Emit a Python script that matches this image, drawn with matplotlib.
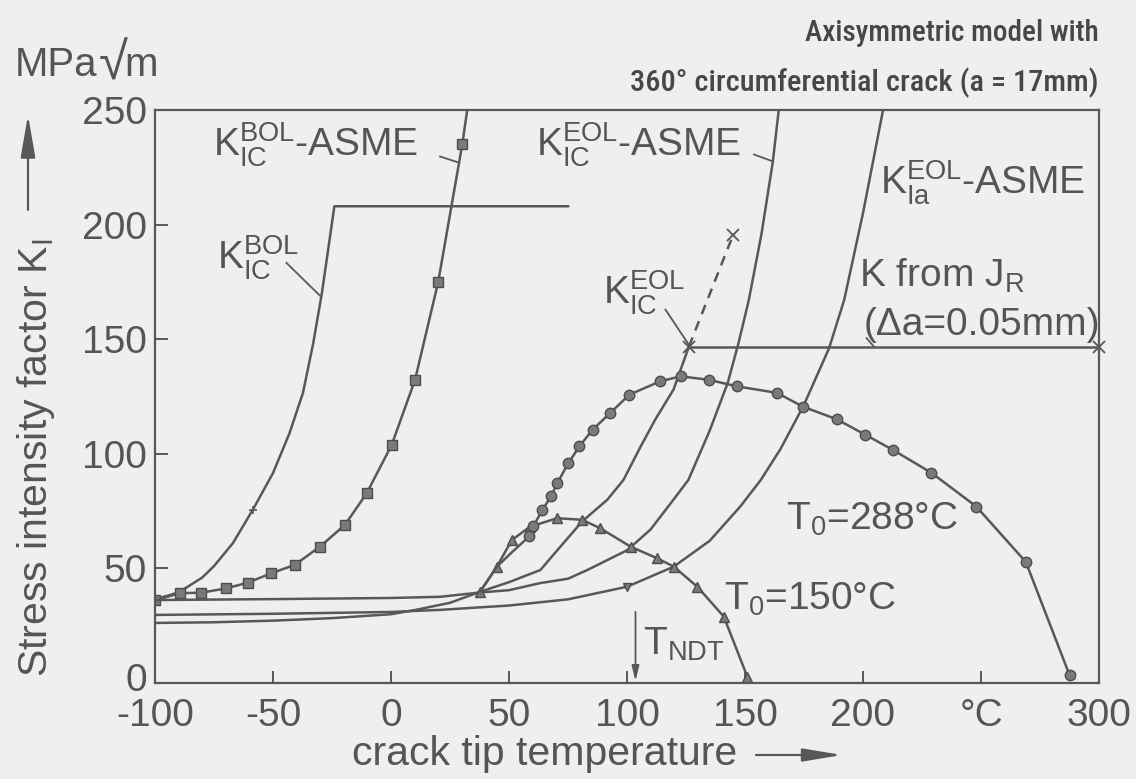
import os
import matplotlib
matplotlib.use("Agg")
import matplotlib.pyplot as plt
from matplotlib import font_manager as fm
from matplotlib.transforms import ScaledTranslation

# ---------------- data ----------------
bol_T = [-100, -90, -80, -75, -67, -58.6, -50, -43, -37.3, -33, -29.3, -26.5, -24, 75]
bol_K = [36.5, 39.5, 46, 51, 61, 75.5, 91.6, 109, 126.6, 148, 170, 190, 208, 208]

bol_asme_T = [-100, -89.6, -80.4, -69.8, -60.6, -50.7, -40.8, -30.1, -19.5, -10.3, 0.3, 10.2, 20, 30.2, 32.3]
bol_asme_K = [36, 39.2, 39.4, 41.3, 43.8, 47.9, 51.5, 59.5, 69, 82.8, 103.9, 132.3, 175, 235, 250]

eol_T = [-100, -75, -50, -25, 0, 11, 25, 37.8, 50, 63.3, 71.8, 81, 91.7, 98.5, 105.7, 112, 119.7, 126.2]
eol_K = [26.2, 26.5, 27.2, 28.3, 30, 32, 35, 39.8, 44, 49.3, 59.5, 70.5, 80, 88.6, 103, 115, 128, 146.7]

eol_dash_T = [126.2, 145]
eol_dash_K = [146.7, 195.6]

jr_T = [126.2, 300]
jr_K = [146.7, 146.7]

eol_asme_T = [-100, -50, 0, 20.8, 37.8, 50, 63.3, 75, 83.2, 100.2, 110, 119.7, 126, 135, 142.7, 147.3, 151.6, 157, 161.8, 164.3]
eol_asme_K = [36.2, 36.6, 37.1, 37.6, 39.5, 40.5, 43.6, 45.5, 49.3, 58, 67, 80, 88.6, 110, 131, 148.5, 167, 196, 227.5, 250]

kia_T = [-100, -50, 0, 20.8, 50, 75, 100, 119.7, 135, 148, 156.7, 165, 175, 185.6, 192, 200, 208.5]
kia_K = [29.7, 30.2, 31.0, 31.9, 33.8, 36.5, 42, 50.7, 62, 77, 88.6, 102, 121.4, 146, 167, 205, 250]

t150_T = [151, 141, 129.8, 119.8, 112.8, 101.5, 88.7, 81, 70.4, 59, 51.2, 44.9, 37.8]
t150_K = [2.7, 29, 42, 50.8, 54.4, 59.5, 67.5, 71.2, 71.9, 68.2, 62.4, 50.8, 39.9]

t288_T = [287.5, 269, 248, 229, 212.7, 201, 189, 174.5, 163.5, 146.7, 134.6, 122.7, 114, 101, 92.9,
          85.4, 79.8, 75.2, 70.5, 67.8, 64.1, 60.3, 58.6, 51.2, 44.9, 37.8]
t288_K = [3.5, 52.8, 77, 91.7, 101.7, 108.3, 115, 120.6, 126.6, 129.4, 132.3, 133.8, 131.6, 125.8, 117.8,
          110.5, 103.2, 96, 87.3, 81.4, 75.5, 68.3, 64, 57, 50.8, 39.9]

x_ticks = [-100, -50, 0, 50, 100, 150, 200, 250, 300]
x_tick_labels = ["-100", "-50", "0", "50", "100", "150", "200", "°C", "300"]
y_ticks = [0, 50, 100, 150, 200, 250]
y_tick_labels = ["0", "50", "100", "150", "200", "250"]

# ---------------- style ----------------
BG = "#efefef"
LC = "#585858"
TC = "#555555"
MF = "#7a7a7a"
ME = "#4c4c4c"

plt.rcParams["font.family"] = ["Liberation Sans", "DejaVu Sans"]
plt.rcParams["mathtext.fontset"] = "custom"
plt.rcParams["mathtext.rm"] = "Liberation Sans"
plt.rcParams["mathtext.it"] = "Liberation Sans:italic"
plt.rcParams["mathtext.bf"] = "Liberation Sans:bold"
plt.rcParams["mathtext.sf"] = "Liberation Sans"

W, H = 1136, 779
fig = plt.figure(figsize=(W / 100, H / 100), dpi=100, facecolor=BG)
ax = fig.add_axes([155 / W, 1 - 683 / H, (1099 - 155) / W, (683 - 110) / H])
ax.set_facecolor(BG)

def fx(px):
    return px / W

def fy(py):
    return 1 - py / H

lw = 1.8
# toughness curves
ax.plot(bol_T, bol_K, color=LC, lw=lw, marker="+", ms=6, mew=1.2, markevery=[5])
ax.plot(bol_asme_T, bol_asme_K, color=LC, lw=lw, marker="s", ms=6.5, mfc=MF, mec=ME,
        markevery=list(range(len(bol_asme_T) - 1)))
ax.plot(eol_T, eol_K, color=LC, lw=lw)
ax.plot(eol_dash_T, eol_dash_K, color=LC, lw=lw, ls=(0, (4, 3)))
ax.plot(eol_dash_T[-1:], eol_dash_K[-1:], color=LC, marker="x", ms=8, mew=1.3, ls="none")
ax.plot(jr_T, jr_K, color=LC, lw=lw, marker="x", ms=8, mew=1.3, clip_on=False)
ax.plot(eol_asme_T, eol_asme_K, color=LC, lw=lw)
ax.plot(kia_T, kia_K, color=LC, lw=lw, marker="v", ms=6, mfc=MF, mec=ME, markevery=[6])
# loading paths
ax.plot(t150_T, t150_K, color=LC, lw=lw, marker="^", ms=6.5, mfc=MF, mec=ME, clip_on=False)
ax.plot(t288_T, t288_K, color=LC, lw=lw, marker="o", ms=7.5, mfc=MF, mec=ME, clip_on=False,
        markevery=list(range(len(t288_T) - 3)))

# leader lines
lead = dict(color=LC, lw=1.3)
ax.plot([20.8, 28.9], [229.7, 227.0], **lead)
ax.plot([-44.3, -30.1], [183.3, 169.0], **lead)
ax.plot([153.8, 161.7], [230.6, 227.6], **lead)
ax.plot([116.3, 126.2], [162.9, 147.6], **lead)
ax.plot([201.5, 204.5], [150.5, 146.9], **lead)

# T_NDT arrow
ax.annotate("", xy=(103.6, 0.8), xytext=(103.6, 31),
            arrowprops=dict(arrowstyle="-|>,head_length=0.9,head_width=0.22", color=LC, lw=1.3,
                            shrinkA=0, shrinkB=0))

# axes formatting
ax.set_xlim(-100, 300)
ax.set_ylim(0, 250)
ax.set_xticks(x_ticks)
ax.set_xticklabels(x_tick_labels)
ax.set_yticks(y_ticks)
ax.set_yticklabels(y_tick_labels)
ax.tick_params(direction="in", length=9, width=1.4, color=LC, labelsize=28, labelcolor=TC)
ax.tick_params(axis="x", pad=10.5)
ax.tick_params(axis="y", pad=6)
for s in ax.spines.values():
    s.set_color(LC)
    s.set_linewidth(1.6)
# the "0" of the y axis sits just above "-100" of the x axis: nudge it up slightly
lab0 = ax.get_yticklabels()[0]
lab0.set_transform(lab0.get_transform() + ScaledTranslation(0, 6 / 100, fig.dpi_scale_trans))

# in-plot labels
LS = 28
tk = dict(color=TC, fontsize=LS, va="baseline", ha="left")
ax.text(-75.6, 229.7, r"$\mathrm{K}^{\mathrm{BOL}}_{\mathrm{IC}}$-ASME", **tk)
ax.text(-73.9, 180.3, r"$\mathrm{K}^{\mathrm{BOL}}_{\mathrm{IC}}$", **tk)
ax.text(61.6, 229.7, r"$\mathrm{K}^{\mathrm{EOL}}_{\mathrm{IC}}$-ASME", **tk)
ax.text(207.2, 213.0, r"$\mathrm{K}^{\mathrm{EOL}}_{\mathrm{Ia}}$-ASME", **tk)
ax.text(90.0, 165.0, r"$\mathrm{K}^{\mathrm{EOL}}_{\mathrm{IC}}$", **tk)
ax.text(198.3, 172.9, r"K from J$_\mathrm{R}$", **tk)
ax.text(200.4, 152.0, "(Δa=0.05mm)", **tk)
ax.text(167.3, 66.8, r"T$_0$=288°C", **tk)
ax.text(141.0, 31.9, r"T$_0$=150°C", **tk)
ax.text(106.6, 12.2, r"T$_\mathrm{NDT}$", **tk)

# axis labels
fig.canvas.draw()
rend = fig.canvas.get_renderer()
t_mpa = fig.text(fx(15), fy(76), "MPa", fontsize=29, color=TC, ha="left", va="baseline")
x_end = t_mpa.get_window_extent(rend).x1
t_rad = fig.text((x_end + 1) / W, fy(80), "√", fontsize=38, color=TC, ha="left", va="baseline")
x_end2 = t_rad.get_window_extent(rend).x1
fig.text((x_end2 - 3) / W, fy(76), "m", fontsize=29, color=TC, ha="left", va="baseline")

fig.text(fx(47), fy(677), r"Stress intensity factor K$_\mathrm{I}$", fontsize=29.5, color=TC,
         rotation=90, rotation_mode="anchor", ha="left", va="baseline")
fig.text(fx(352), fy(765), "crack tip temperature", fontsize=29.5, color=TC,
         ha="left", va="baseline")
fig.patches.append(matplotlib.patches.FancyArrowPatch(
    (fx(28), fy(210)), (fx(28), fy(115)), transform=fig.transFigure,
    arrowstyle="-|>,head_length=2.6,head_width=0.45", mutation_scale=10, color=LC, lw=1.6,
    shrinkA=0, shrinkB=0))
fig.patches.append(matplotlib.patches.FancyArrowPatch(
    (fx(756), fy(755)), (fx(842), fy(755)), transform=fig.transFigure,
    arrowstyle="-|>,head_length=2.4,head_width=0.4", mutation_scale=10, color=LC, lw=1.6,
    shrinkA=0, shrinkB=0))

# top-right condensed caption
cond_fp = None
pref = ["notosans-extracondensedmedium.ttf", "notosans-extracondensedsemibold.ttf",
        "notosans-extracondensed.ttf", "notosans-condensedmedium.ttf",
        "notosans-condensedsemibold.ttf", "notosans-condensed.ttf",
        "robotocondensed-medium.ttf", "robotocondensed-regular.ttf",
        "liberationsansnarrow-regular.ttf", "liberationsansnarrow-bold.ttf",
        "dejavusanscondensed-bold.ttf", "dejavusanscondensed.ttf"]
bases = {}
for f in fm.fontManager.ttflist:
    bases.setdefault(os.path.basename(f.fname).lower(), f.fname)
for key in pref:
    if key in bases:
        cond_fp = fm.FontProperties(fname=bases[key])
        break

def fit_text(txt, x_right, y_base, target_w, size0):
    if cond_fp is not None:
        fp = cond_fp.copy()
        fp.set_size(size0)
        t = fig.text(fx(x_right), fy(y_base), txt, fontproperties=fp, ha="right",
                     va="baseline", color="#474747")
    else:
        t = fig.text(fx(x_right), fy(y_base), txt, ha="right", va="baseline",
                     color="#474747", fontsize=size0)
    fig.canvas.draw()
    w = t.get_window_extent(fig.canvas.get_renderer()).width
    t.set_fontsize(size0 * target_w / w)
    return t

fit_text("Axisymmetric model with", 1099, 41, 295, 20)
fit_text("360° circumferential crack (a = 17mm)", 1099, 91, 469, 20)

fig.savefig("out.png", dpi=100, facecolor=BG)
